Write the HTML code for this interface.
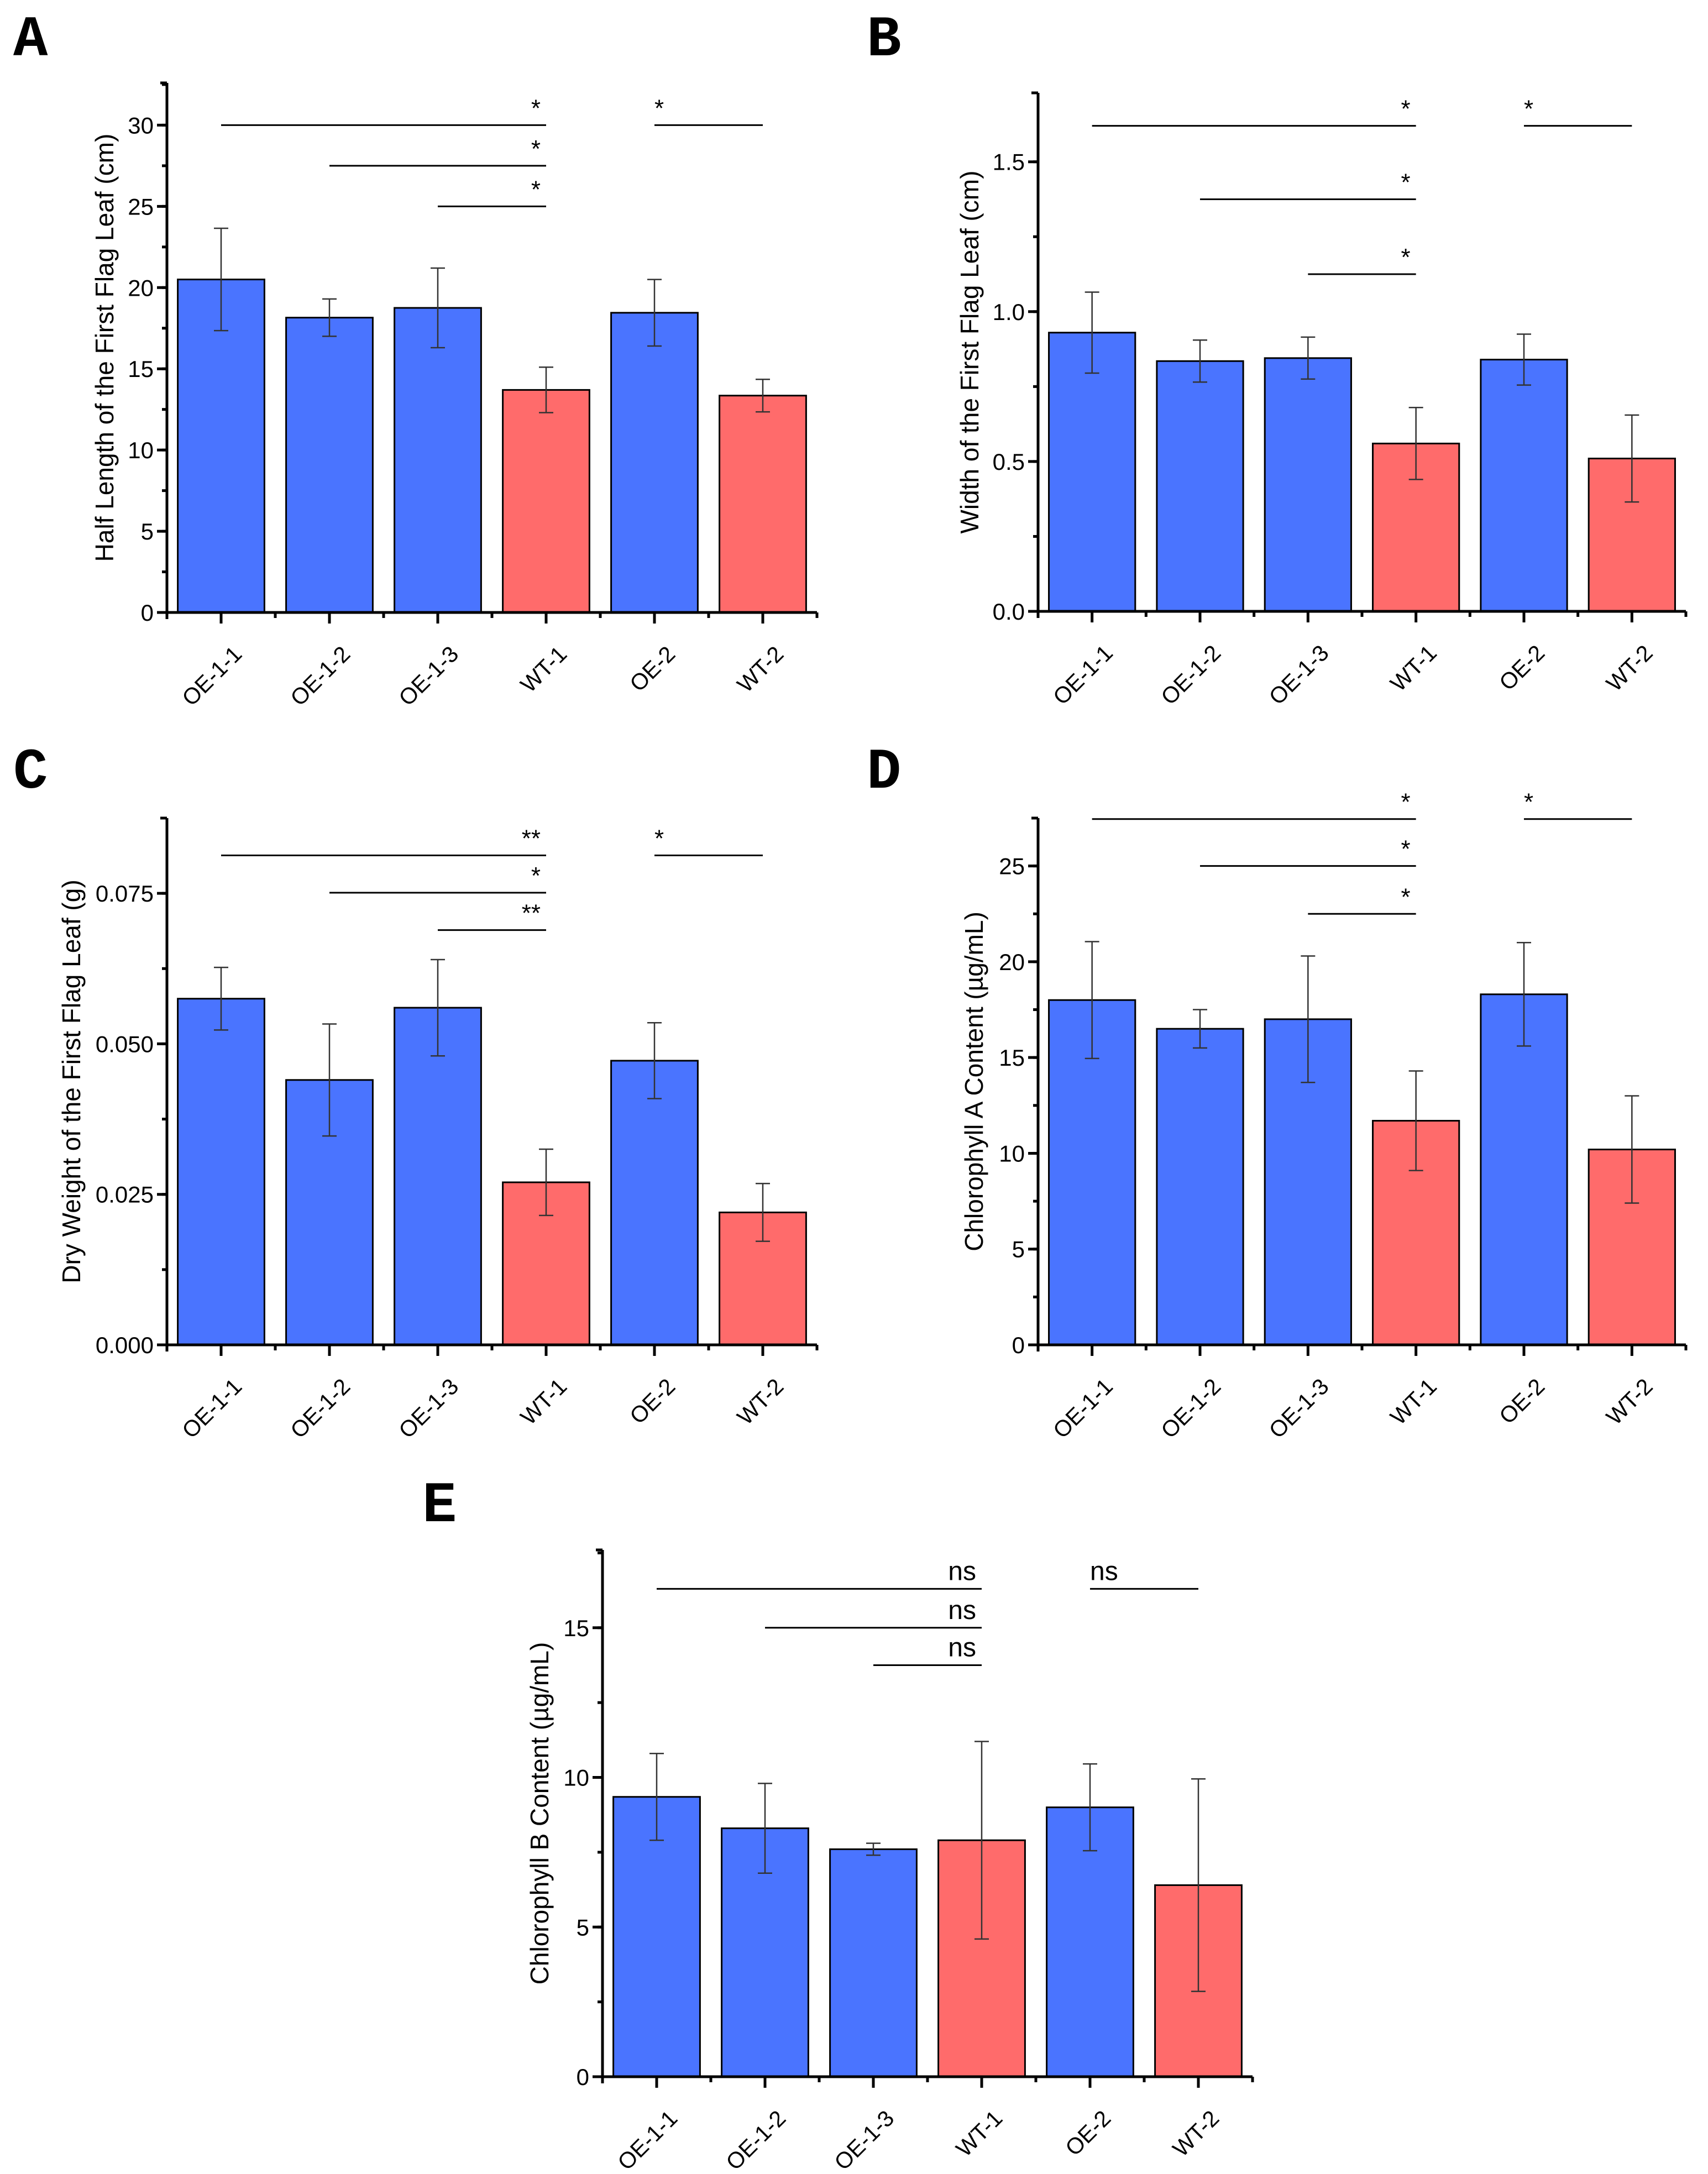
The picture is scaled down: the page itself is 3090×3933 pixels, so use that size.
<!DOCTYPE html>
<html><head><meta charset="utf-8"><style>
html,body{margin:0;padding:0;background:#fff;}
svg{display:block;}
text{font-family:"Liberation Sans",Arial,sans-serif;fill:#000;}
.lab{font-family:"Liberation Mono","Courier New",monospace;font-weight:bold;font-size:104px;}
</style></head><body>
<svg id="fig" width="3090" height="3933" viewBox="0 0 3090 3933" xmlns="http://www.w3.org/2000/svg">
<text class="lab" x="24" y="100">A</text>
<text class="lab" x="1568" y="100">B</text>
<text class="lab" x="24" y="1425">C</text>
<text class="lab" x="1568" y="1425">D</text>
<text class="lab" x="764" y="2752">E</text>
</svg>
<script>
const categories = ["OE-1-1","OE-1-2","OE-1-3","WT-1","OE-2","WT-2"];
const barKinds = ["oe","oe","oe","wt","oe","wt"];

const valuesA = [20.5, 18.15, 18.75, 13.7, 18.45, 13.35];
const errorsA = [3.15, 1.15, 2.45, 1.4, 2.05, 1.0];
const ticksA = [0,5,10,15,20,25,30];
const tickLabelsA = ["0","5","10","15","20","25","30"];
const sigFromA = [0,1,2,4]; const sigToA = [3,3,3,5];
const sigLevelA = [30,27.5,25,30]; const sigTextA = ["*","*","*","*"];

const valuesB = [0.93, 0.835, 0.845, 0.56, 0.84, 0.51];
const errorsB = [0.135, 0.07, 0.07, 0.12, 0.085, 0.145];
const ticksB = [0,0.5,1.0,1.5];
const tickLabelsB = ["0.0","0.5","1.0","1.5"];
const sigFromB = [0,1,2,4]; const sigToB = [3,3,3,5];
const sigLevelB = [1.62,1.375,1.125,1.62]; const sigTextB = ["*","*","*","*"];

const valuesC = [0.0575, 0.044, 0.056, 0.027, 0.0472, 0.022];
const errorsC = [0.0052, 0.0093, 0.008, 0.0055, 0.0063, 0.0048];
const ticksC = [0,0.025,0.05,0.075];
const tickLabelsC = ["0.000","0.025","0.050","0.075"];
const sigFromC = [0,1,2,4]; const sigToC = [3,3,3,5];
const sigLevelC = [0.0813,0.0751,0.0689,0.0813]; const sigTextC = ["**","*","**","*"];

const valuesD = [18.0, 16.5, 17.0, 11.7, 18.3, 10.2];
const errorsD = [3.05, 1.0, 3.3, 2.6, 2.7, 2.8];
const ticksD = [0,5,10,15,20,25];
const tickLabelsD = ["0","5","10","15","20","25"];
const sigFromD = [0,1,2,4]; const sigToD = [3,3,3,5];
const sigLevelD = [27.45,25,22.5,27.45]; const sigTextD = ["*","*","*","*"];

const valuesE = [9.35, 8.3, 7.6, 7.9, 9.0, 6.4];
const errorsE = [1.45, 1.5, 0.2, 3.3, 1.45, 3.55];
const ticksE = [0,5,10,15];
const tickLabelsE = ["0","5","10","15"];
const sigFromE = [0,1,2,4]; const sigToE = [3,3,3,5];
const sigLevelE = [16.3,15.0,13.75,16.3]; const sigTextE = ["ns","ns","ns","ns"];

const NS = "http://www.w3.org/2000/svg";
const svg = document.getElementById('fig');
function mk(tag, attrs, parent){ const e=document.createElementNS(NS,tag); for(const k in attrs) e.setAttribute(k,attrs[k]); (parent||svg).appendChild(e); return e; }

function panel(id, box, vals, errs, ticks, tickLabels, minorStep, yTitle, titleX, sFrom, sTo, sLev, sTxt, sigSize){
  const g = mk('g',{});
  
  
  const band = (box.x1-box.x0)/categories.length;
  const xc = i => box.x0 + band*(i+0.5);
  const y = v => box.y0 - (v/box.max)*(box.y0-box.ytop);
  const bw = band*0.8;
  vals.forEach((v,i)=>{
    const r = mk('rect',{x:xc(i)-bw/2, y:y(v), width:bw, height:box.y0-y(v), fill: barKinds[i]==='oe'?'#4a74ff':'#ff6b6b', stroke:'#000','stroke-width':3},g);
    
    
  });
  vals.forEach((v,i)=>{
    const eg = mk('g',{stroke:'#333','stroke-width':2.5},g);
    
    
    const t=y(v+errs[i]), b=y(v-errs[i]), c=xc(i);
    mk('line',{x1:c,x2:c,y1:t,y2:b},eg);
    mk('line',{x1:c-13,x2:c+13,y1:t,y2:t},eg);
    mk('line',{x1:c-13,x2:c+13,y1:b,y2:b},eg);
  });
  const ax = mk('g',{stroke:'#000','stroke-width':5},g);
  
  
  mk('line',{x1:box.x0,x2:box.x0,y1:box.ytop,y2:box.y0+12},ax);
  mk('line',{x1:box.x0-18,x2:box.x1,y1:box.y0,y2:box.y0},ax);
  mk('line',{x1:box.x0-12,x2:box.x0,y1:box.ytop,y2:box.ytop},ax);
  for(let m=minorStep; m<box.max; m+=minorStep){
    mk('line',{x1:box.x0-9,x2:box.x0,y1:y(m),y2:y(m)},ax);
  }
  ticks.forEach((t,k)=>{
    mk('line',{x1:box.x0-18,x2:box.x0,y1:y(t),y2:y(t)},ax);
    const tl = mk('text',{x:box.x0-24, y:y(t)+15, 'text-anchor':'end','font-size':42},g);
    tl.textContent = tickLabels[k];
    
    
  });
  for(let i=0;i<=categories.length;i++){
    const xx = box.x0+band*i;
    mk('line',{x1:xx,x2:xx,y1:box.y0,y2:box.y0+10},ax);
  }
  categories.forEach((c,i)=>{
    mk('line',{x1:xc(i),x2:xc(i),y1:box.y0,y2:box.y0+20},ax);
    const cl = mk('text',{'text-anchor':'end','font-size':41, transform:'translate('+(xc(i)+40)+','+(box.y0+78)+') rotate(-45)'},g);
    cl.textContent = c;
    
    
  });
  const my = (box.y0+box.ytop)/2;
  const tt = mk('text',{'text-anchor':'middle','font-size':46, transform:'translate('+titleX+','+my+') rotate(-90)'},g);
  tt.textContent = yTitle;
  
  
  sFrom.forEach((f,k)=>{
    const sg = mk('g',{},g);
    
    
    const yy = y(sLev[k]);
    mk('line',{x1:xc(f),x2:xc(sTo[k]),y1:yy,y2:yy,stroke:'#000','stroke-width':3},sg);
    const st = mk('text',{x:xc(sTo[k])-10, y:yy-(sigSize>40?16:6), 'text-anchor':'end','font-size':sigSize},sg);
    if(k===3){ st.setAttribute('x', xc(f)); st.setAttribute('text-anchor','start'); }
    st.textContent = sTxt[k];
  });
}

panel('a',{x0:302,x1:1478,y0:1108,ytop:150,max:32.6},valuesA,errorsA,ticksA,tickLabelsA,2.5,'Half Length of the First Flag Leaf (cm)',205,sigFromA,sigToA,sigLevelA,sigTextA,44);
panel('b',{x0:1878,x1:3050,y0:1106,ytop:168,max:1.73},valuesB,errorsB,ticksB,tickLabelsB,0.25,'Width of the First Flag Leaf (cm)',1770,sigFromB,sigToB,sigLevelB,sigTextB,44);
panel('c',{x0:302,x1:1478,y0:2433,ytop:1480,max:0.0875},valuesC,errorsC,ticksC,tickLabelsC,0.0125,'Dry Weight of the First Flag Leaf (g)',145,sigFromC,sigToC,sigLevelC,sigTextC,44);
panel('d',{x0:1878,x1:3050,y0:2433,ytop:1480,max:27.5},valuesD,errorsD,ticksD,tickLabelsD,2.5,'Chlorophyll A Content (\u00b5g/mL)',1778,sigFromD,sigToD,sigLevelD,sigTextD,44);
panel('e',{x0:1090,x1:2266,y0:3757,ytop:2804,max:17.6},valuesE,errorsE,ticksE,tickLabelsE,2.5,'Chlorophyll B Content (\u00b5g/mL)',992,sigFromE,sigToE,sigLevelE,sigTextE,48);
</script>
</body></html>
